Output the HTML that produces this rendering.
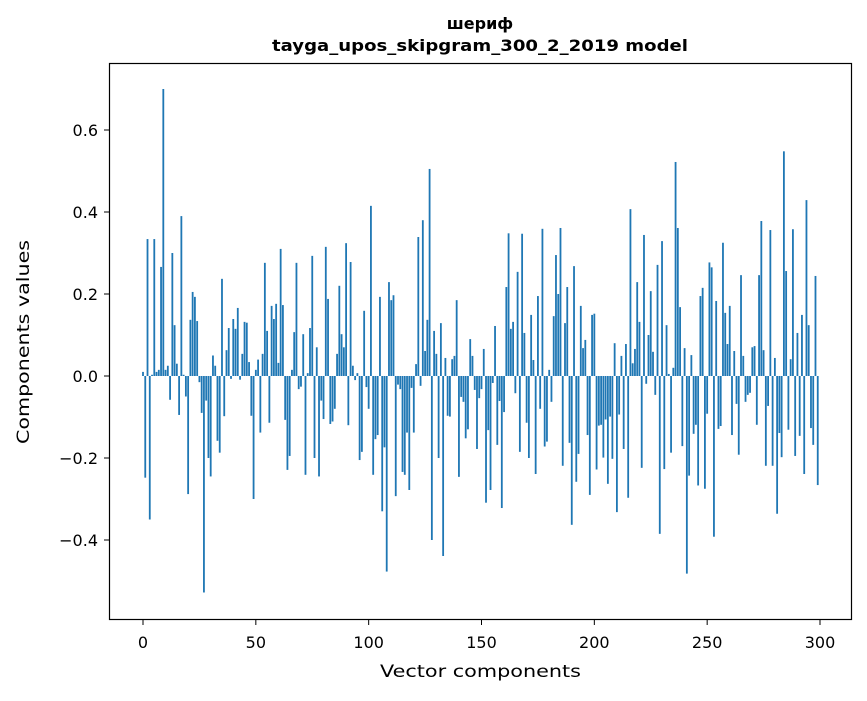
<!DOCTYPE html>
<html><head><meta charset="utf-8"><style>
body{margin:0;background:#fff}
svg text{font-family:"DejaVu Sans","Liberation Sans",sans-serif;fill:#000}
</style></head><body>
<svg id="chart" width="867" height="696" viewBox="0 0 867 696" xmlns="http://www.w3.org/2000/svg">
<rect width="867" height="696" fill="#fff"/>
<text x="480" y="29" text-anchor="middle" font-size="16" font-weight="bold">шериф</text>
<text x="480" y="51" text-anchor="middle" font-size="16" font-weight="bold" textLength="416" lengthAdjust="spacingAndGlyphs">tayga_upos_skipgram_300_2_2019 model</text>
<g id="bars"></g>
<g id="axes"></g>
<rect x="109.5" y="63.5" width="742" height="556" fill="none" stroke="#000" stroke-width="1.2"/>
<text x="480.5" y="677" text-anchor="middle" font-size="17" textLength="201" lengthAdjust="spacingAndGlyphs">Vector components</text>
<text transform="translate(29,342) rotate(-90)" text-anchor="middle" font-size="17" textLength="204" lengthAdjust="spacingAndGlyphs">Components values</text>
</svg>
<script>
const values = [0.01,-0.248,0.334,-0.35,0.003,0.334,0.01,0.015,0.266,0.70,
0.015,0.025,-0.058,0.30,0.124,0.03,-0.095,0.39,0.003,-0.05,
-0.288,0.137,0.205,0.193,0.134,-0.015,-0.09,-0.528,-0.06,-0.2,
-0.245,0.05,0.025,-0.158,-0.187,0.237,-0.098,0.063,0.117,-0.007,
0.139,0.115,0.166,-0.009,0.054,0.132,0.13,0.034,-0.097,-0.3,
0.015,0.04,-0.138,0.054,0.276,0.11,-0.114,0.171,0.139,0.176,
0.032,0.31,0.173,-0.107,-0.229,-0.195,0.015,0.107,0.276,-0.032,
-0.026,0.102,-0.241,0.007,0.117,0.293,-0.2,0.07,-0.245,-0.06,
-0.105,0.315,0.188,-0.117,-0.111,-0.08,0.054,0.22,0.102,0.07,
0.324,-0.12,0.278,0.025,-0.01,0.007,-0.205,-0.185,0.159,-0.027,
-0.08,0.415,-0.241,-0.154,-0.144,0.193,-0.33,-0.174,-0.477,0.229,
0.185,0.197,-0.293,-0.021,-0.032,-0.234,-0.241,-0.138,-0.278,-0.029,
-0.138,0.029,0.339,-0.024,0.38,0.061,0.137,0.505,-0.4,0.11,
0.054,-0.2,0.129,-0.439,0.044,-0.097,-0.099,0.041,0.049,0.185,
-0.246,-0.051,-0.063,-0.152,-0.13,0.09,0.049,-0.034,-0.178,-0.054,
-0.032,0.066,-0.309,-0.132,-0.278,-0.017,0.122,-0.168,-0.061,-0.322,
-0.088,0.217,0.348,0.115,0.132,-0.042,0.254,-0.185,0.347,0.105,
-0.114,-0.2,0.149,0.039,-0.239,0.195,-0.08,0.359,-0.172,-0.16,
0.015,-0.063,0.146,0.295,0.2,0.361,-0.219,0.129,0.217,-0.163,
-0.363,0.268,-0.258,-0.19,0.171,0.068,0.088,-0.144,-0.29,0.149,
0.152,-0.228,-0.121,-0.119,-0.199,-0.106,-0.263,-0.099,-0.202,0.08,
-0.332,-0.094,0.049,-0.178,0.078,-0.297,0.407,0.031,0.066,0.229,
0.132,-0.224,0.344,-0.019,0.1,0.207,0.059,-0.046,0.271,-0.385,
0.329,-0.227,0.124,0.005,-0.187,0.02,0.522,0.361,0.168,-0.171,
0.068,-0.482,-0.243,0.051,-0.141,-0.119,-0.267,0.195,0.215,-0.275,
-0.092,0.277,0.265,-0.392,0.183,-0.129,-0.122,0.325,0.154,0.078,
0.171,-0.144,0.061,-0.068,-0.192,0.246,0.049,-0.063,-0.046,-0.041,
0.07,0.073,-0.119,0.246,0.378,0.063,-0.219,-0.073,0.356,-0.219,
0.044,-0.336,-0.139,-0.198,0.548,0.256,-0.131,0.041,0.358,-0.195,
0.105,-0.146,0.149,-0.239,0.429,0.124,-0.127,-0.168,0.244,-0.266];
const xTicks = [0,50,100,150,200,250,300];
const yTicks = [-0.4,-0.2,0.0,0.2,0.4,0.6];
const yTickLabels = ["\u22120.4","\u22120.2","0.0","0.2","0.4","0.6"];

function xs(v){ return 143 + (v*(820-143)/300); }
function ys(v){ return 376 - v*410; }
const NS="http://www.w3.org/2000/svg";
const gb=document.getElementById('bars');
const bw=0.8;
values.forEach((v,i)=>{
  const r=document.createElementNS(NS,'rect');
  
  
  const x0=xs(i-bw/2), x1=xs(i+bw/2);
  r.setAttribute('x',x0);
  r.setAttribute('width',x1-x0);
  r.setAttribute('y',Math.min(ys(v),ys(0)));
  r.setAttribute('height',Math.abs(ys(v)-ys(0)));
  r.setAttribute('fill','#1f77b4');
  gb.appendChild(r);
});
const ga=document.getElementById('axes');
xTicks.forEach(t=>{
  const l=document.createElementNS(NS,'line');
  
  
  l.setAttribute('x1',xs(t));l.setAttribute('x2',xs(t));
  l.setAttribute('y1',620);l.setAttribute('y2',625);
  l.setAttribute('stroke','#000');
  ga.appendChild(l);
  const tx=document.createElementNS(NS,'text');
  
  
  tx.setAttribute('x',xs(t));tx.setAttribute('y',648);
  tx.setAttribute('text-anchor','middle');tx.setAttribute('font-size','16');
  tx.textContent=String(t);
  ga.appendChild(tx);
});
yTicks.forEach((t,k)=>{
  const l=document.createElementNS(NS,'line');
  
  
  l.setAttribute('x1',104);l.setAttribute('x2',109);
  l.setAttribute('y1',ys(t));l.setAttribute('y2',ys(t));
  l.setAttribute('stroke','#000');
  ga.appendChild(l);
  const tx=document.createElementNS(NS,'text');
  
  
  tx.setAttribute('x',98);tx.setAttribute('y',ys(t)+6);
  tx.setAttribute('text-anchor','end');tx.setAttribute('font-size','16');
  tx.textContent=yTickLabels[k];
  ga.appendChild(tx);
});
</script>
</body></html>
